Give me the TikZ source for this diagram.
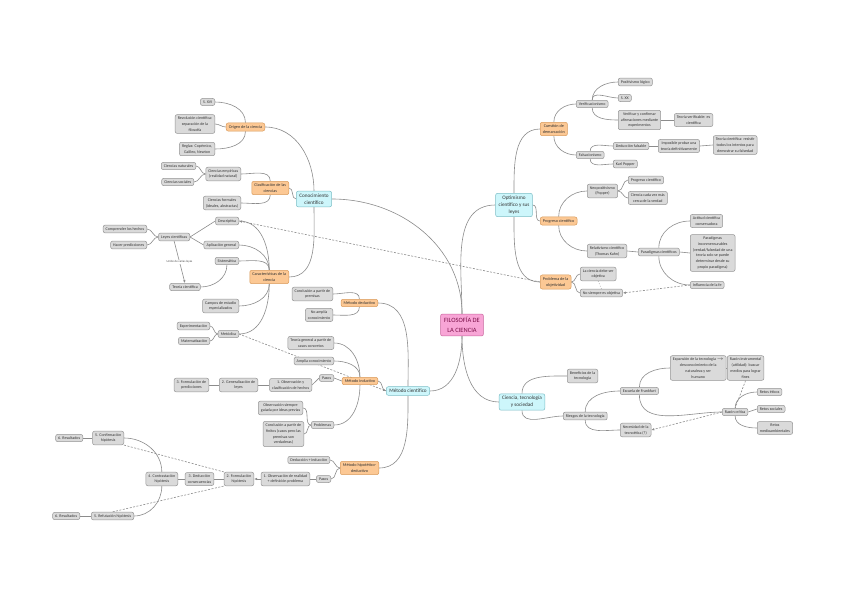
\documentclass[tikz,border=0pt]{standalone}
\usepackage{fontspec}
\setmainfont{Carlito}
\usepackage{tikz}
\usetikzlibrary{arrows.meta, backgrounds}

\definecolor{grisfondo}{HTML}{DADADA}
\definecolor{grisborde}{HTML}{959595}
\definecolor{naranjafondo}{HTML}{FCC894}
\definecolor{naranjaborde}{HTML}{D99A5A}
\definecolor{cianfondo}{HTML}{CDF6FB}
\definecolor{cianborde}{HTML}{7DBEC6}
\definecolor{rosafondo}{HTML}{F8A5D6}
\definecolor{rosaborde}{HTML}{C9669E}
\definecolor{rosatexto}{HTML}{7A1048}
\definecolor{linea}{HTML}{8C8C8C}

\begin{document}
\begin{tikzpicture}[
          x=1pt, y=-1pt,
          every node/.style={rectangle, rounded corners=2pt, align=center, inner xsep=2.6pt, inner ysep=2.2pt, line width=0.5pt, text=black!80},
          hoja/.style={draw=grisborde, fill=grisfondo, font=\fontsize{4}{5.8}\selectfont},
          rama/.style={draw=naranjaborde, fill=naranjafondo, font=\fontsize{4.2}{6}\selectfont},
          tema/.style={draw=cianborde, fill=cianfondo, font=\fontsize{5.2}{7}\selectfont, inner xsep=3pt, inner ysep=2.5pt},
          central/.style={draw=rosaborde, fill=rosafondo, font=\fontsize{6.5}{9.5}\selectfont, text=rosatexto, inner sep=3.5pt},
          etiqueta/.style={fill=white, inner sep=0.8pt, rounded corners=0pt, font=\fontsize{3}{4}\selectfont, text=black!70},
          enlace/.style={draw=linea, line width=0.6pt},
          relacion/.style={draw=linea, line width=0.6pt, dash pattern=on 2pt off 1.5pt},
          flecha/.style={-{Latex[length=3pt, width=2.5pt]}}
        ]
  \useasboundingbox (0,0) rectangle (848,599);

  \node[central] (central) at (462,325) {FILOSOFÍA DE\\LA CIENCIA};

  \node[tema] (conoc) at (314,199) {Conocimiento\\científico};
  \node[tema] (metodo) at (408,391) {Método científico};
  \node[tema] (optim) at (514,205) {Optimismo\\científico y sus\\leyes};
  \node[tema] (ciencia) at (522,402) {Ciencia, tecnología\\y sociedad};

  % conocimiento cientifico
  \node[rama, anchor=east] (origen) at (265,127) {Origen de la ciencia};
  \node[rama, anchor=east] (clasif) at (289,188) {Clasificación de las\\ciencias};
  \node[rama, anchor=east] (caract) at (289,277) {Características de la\\ciencia};

  \node[hoja, anchor=east] (sxvi) at (215,102) {S. XVI};
  \node[hoja, anchor=east] (revol) at (215,124) {Revolución científica:\\separación de la\\filosofía};
  \node[hoja, anchor=east] (reglas) at (215,149) {Reglas: Copérnico,\\Galileo, Newton};

  \node[hoja, anchor=east] (empir) at (241,174) {Ciencias empíricas\\(realidad natural)};
  \node[hoja, anchor=east] (formal) at (241,203) {Ciencias formales\\(ideales, abstractas)};
  \node[hoja, anchor=east] (natur) at (196,166) {Ciencias naturales};
  \node[hoja, anchor=east] (social) at (194,182) {Ciencias sociales};

  \node[hoja, anchor=east] (descr) at (239,221) {Descriptiva};
  \node[hoja, anchor=east] (aplic) at (239,245) {Aplicación general};
  \node[hoja, anchor=east] (sistem) at (239,261) {Sistemática};
  \node[hoja, anchor=east] (campos) at (239,306) {Campos de estudio\\especializados};
  \node[hoja, anchor=east] (metodica) at (239,334) {Metódica};
  \node[hoja, anchor=east] (leyes) at (190,237) {Leyes científicas};
  \node[hoja, anchor=east] (comprender) at (147,229) {Comprender los hechos};
  \node[hoja, anchor=east] (predic) at (147,245) {Hacer predicciones};
  \node[hoja] (teoria) at (185,287) {Teoría científica};
  \node[hoja, anchor=east] (experim) at (210,326) {Experimentación};
  \node[hoja, anchor=east] (matemat) at (210,341) {Matematización};

  % metodo cientifico
  \node[rama, anchor=east] (deduc) at (378,303) {Método deductivo};
  \node[rama, anchor=east] (induc) at (378,381) {Método inductivo};
  \node[rama, anchor=east] (hipot) at (379,468) {Método hipotético-\\deductivo};

  \node[hoja, anchor=east] (concl) at (333,294) {Conclusión a partir de\\premisas};
  \node[hoja, anchor=east] (noampl) at (333,315) {No amplía\\conocimiento};

  \node[hoja, anchor=east] (teogen) at (334,343) {Teoría general a partir de\\casos concretos};
  \node[hoja, anchor=east] (ampl) at (334,361) {Amplía conocimiento};
  \node[hoja, anchor=east] (pasosi) at (334,378) {Pasos};
  \node[hoja, anchor=east] (obsi) at (312,385) {1. Observación y\\clasificación de hechos};
  \node[hoja, anchor=east] (geni) at (258,385) {2. Generalización de\\leyes};
  \node[hoja, anchor=east] (formi) at (209,385) {3. Formulación de\\predicciones};
  \node[hoja, anchor=east] (problemas) at (334,425) {Problemas};
  \node[hoja, anchor=east] (obssiempre) at (303,408) {Observación siempre\\guiada por ideas previas};
  \node[hoja, anchor=east] (conclfin) at (304,434) {Conclusión a partir de\\finitos (casos pero las\\premisas son\\verdaderas)};

  \node[hoja, anchor=east] (dedind) at (330,460) {Deducción + inducción};
  \node[hoja, anchor=east] (pasosh) at (331,479) {Pasos};
  \node[hoja, anchor=east] (obsh) at (310,479) {1. Observación de realidad\\+ definición problema};
  \node[hoja, anchor=east] (formh) at (254,479) {2. Formulación\\hipótesis};
  \node[hoja, anchor=east] (dedh) at (214,479) {3. Deducción\\consecuencias};
  \node[hoja, anchor=east] (contrh) at (178,479) {4. Contrastación\\hipótesis};
  \node[hoja, anchor=east] (confh) at (124,438) {5. Confirmación\\hipótesis};
  \node[hoja, anchor=east] (resa) at (83,438) {6. Resultados};
  \node[hoja, anchor=east] (refh) at (134,516) {5. Refutación hipótesis};
  \node[hoja, anchor=east] (resb) at (80,516) {6. Resultados};

  % optimismo cientifico
  \node[rama, anchor=west] (demarc) at (540,129) {Cuestión de\\demarcación};
  \node[rama, anchor=west] (progreso) at (540,221) {Progreso científico};
  \node[rama, anchor=west] (objet) at (540,282) {Problema de la\\objetividad};

  \node[hoja, anchor=west] (verif) at (576,104) {Verificacionismo};
  \node[hoja, anchor=west] (posit) at (618,82) {Positivismo lógico};
  \node[hoja, anchor=west] (sxx) at (618,98) {S. XX};
  \node[hoja, anchor=west] (verifconf) at (618,120) {Verificar y confirmar\\afirmaciones mediante\\experimentos};
  \node[hoja, anchor=west] (teoverif) at (674,120) {Teoría verificable: es\\científica};
  \node[hoja, anchor=west] (falsac) at (576,155) {Falsacionismo};
  \node[hoja, anchor=west] (dedfals) at (613,146) {Deducción falsable};
  \node[hoja, anchor=west] (karl) at (613,164) {Karl Popper};
  \node[hoja, anchor=west] (imposible) at (658,146) {Imposible probar una\\teoría definitivamente};
  \node[hoja, anchor=west] (teocient) at (713,145) {Teoría científica: resistir\\todos los intentos para\\demostrar su falsedad};

  \node[hoja, anchor=west] (neopos) at (587,191) {Neopositivismo\\(Popper)};
  \node[hoja, anchor=west] (progcient) at (628,180) {Progreso científico};
  \node[hoja, anchor=west] (cerca) at (628,198) {Ciencia cada vez más\\cerca de la verdad};
  \node[hoja, anchor=west] (relat) at (587,251) {Relativismo científico\\(Thomas Kuhn)};
  \node[hoja, anchor=west] (paradig) at (638,252) {Paradigmas científicos};
  \node[hoja, anchor=west] (actitud) at (690,221) {Actitud científica\\conservadora};
  \node[hoja, anchor=west] (inconm) at (690,253) {Paradigmas\\inconmensurables\\(verdad/falsedad de una\\teoría solo se puede\\determinar desde su\\propio paradigma)};
  \node[hoja, anchor=west] (influencia) at (690,285) {Influencia de la fe};

  \node[hoja, anchor=west] (debeobj) at (580,274) {La ciencia debe ser\\objetiva};
  \node[hoja, anchor=west] (noobj) at (580,293) {No siempre es objetiva};

  % ciencia, tecnologia y sociedad
  \node[hoja, anchor=west] (benef) at (567,376) {Beneficios de la\\tecnología};
  \node[hoja, anchor=west] (riesgos) at (563,416) {Riesgos de la tecnología};
  \node[hoja, anchor=west] (escuela) at (620,391) {Escuela de Frankfurt};
  \node[hoja, anchor=west] (expansion) at (670,368) {Expansión de la tecnología $\rightarrow$\\desconocimiento de la\\naturaleza y ser\\humano};
  \node[hoja, anchor=west] (instrum) at (727,368) {Razón instrumental\\(utilidad): buscar\\medios para lograr\\fines};
  \node[hoja, anchor=west] (critica) at (722,412) {Razón crítica};
  \node[hoja, anchor=west] (eticos) at (757,392) {Retos éticos};
  \node[hoja, anchor=west] (sociales) at (757,409) {Retos sociales};
  \node[hoja, anchor=west] (medioamb) at (757,428) {Retos\\medioambientales};
  \node[hoja, anchor=west] (necesidad) at (620,430) {Necesidad de la\\tecnoética (?)};

  \begin{scope}[on background layer]
    \fill[white] (0,0) rectangle (848,599);

    \draw[enlace] (central.north) to[out=90,in=0] (conoc.east);
    \draw[enlace] (central.north) to[out=90,in=180] (optim.west);
    \draw[enlace] (central.south) to[out=-90,in=0] (metodo.east);
    \draw[enlace] (central.south) to[out=-90,in=180] (ciencia.west);

    \draw[enlace] (conoc.north) to[out=90,in=0] (origen.east);
    \draw[enlace] (conoc.west) to[out=180,in=0] (clasif.east);
    \draw[enlace] (conoc.south) to[out=-90,in=0] (caract.east);

    \draw[enlace] (origen.north) to[out=90,in=0] (sxvi.east);
    \draw[enlace] (origen.west) to[out=180,in=0] (revol.east);
    \draw[enlace] (origen.south) to[out=-90,in=0] (reglas.east);

    \draw[enlace] (clasif.north) to[out=90,in=0] (empir.east);
    \draw[enlace] (clasif.south) to[out=-90,in=0] (formal.east);
    \draw[enlace] (empir.west) to[out=180,in=0] (natur.east);
    \draw[enlace] (empir.west) to[out=180,in=0] (social.east);

    \draw[enlace] (caract.north) to[out=90,in=0] (descr.east);
    \draw[enlace] (caract.north) to[out=90,in=0] (aplic.east);
    \draw[enlace] (caract.north) to[out=90,in=0] (sistem.east);
    \draw[enlace] (caract.south) to[out=-90,in=0] (campos.east);
    \draw[enlace] (caract.south) to[out=-90,in=0] (metodica.east);
    \draw[enlace] (descr.west) -- (leyes.east);
    \draw[enlace] (aplic.west) -- (leyes.east);
    \draw[enlace] (leyes.west) to[out=180,in=0] (comprender.east);
    \draw[enlace] (leyes.west) to[out=180,in=0] (predic.east);
    \draw[enlace, flecha] (leyes.south) -- node[etiqueta] {Unión de varias leyes} (teoria.north);
    \draw[enlace] (teoria.east) to[out=0,in=-90] (sistem.south);
    \draw[enlace] (metodica.west) to[out=180,in=0] (experim.east);
    \draw[enlace] (metodica.west) to[out=180,in=0] (matemat.east);

    \draw[enlace] (metodo.north) to[out=90,in=0] (deduc.east);
    \draw[enlace] (metodo.west) to[out=180,in=0] (induc.east);
    \draw[enlace] (metodo.south) to[out=-90,in=0] (hipot.east);

    \draw[enlace] (deduc.north) to[out=90,in=0] (concl.east);
    \draw[enlace] (deduc.south) to[out=-90,in=0] (noampl.east);

    \draw[enlace] (induc.north) to[out=90,in=0] (teogen.east);
    \draw[enlace] (induc.north) to[out=90,in=0] (ampl.east);
    \draw[enlace] (induc.west) -- (pasosi.east);
    \draw[enlace] (induc.south) to[out=-90,in=0] (problemas.east);
    \draw[enlace] (pasosi.west) -- (obsi.east);
    \draw[enlace] (obsi.west) -- (geni.east);
    \draw[enlace] (geni.west) -- (formi.east);
    \draw[enlace] (problemas.west) to[out=180,in=0] (obssiempre.east);
    \draw[enlace] (problemas.west) to[out=180,in=0] (conclfin.east);

    \draw[enlace] (hipot.west) to[out=180,in=0] (dedind.east);
    \draw[enlace] (hipot.west) to[out=180,in=0] (pasosh.east);
    \draw[enlace] (pasosh.west) -- (obsh.east);
    \draw[enlace, flecha] (obsh.west) -- (formh.east);
    \draw[enlace] (formh.west) -- (dedh.east);
    \draw[enlace] (dedh.west) -- (contrh.east);
    \draw[enlace] (contrh.north) to[out=90,in=0] (confh.east);
    \draw[enlace] (contrh.south) to[out=-90,in=0] (refh.east);
    \draw[enlace] (confh.west) -- (resa.east);
    \draw[enlace] (refh.west) -- (resb.east);
    \draw[relacion] (confh.south east) -- (formh.north west);
    \draw[relacion] (refh.north) -- (formh.south west);

    \draw[enlace] (optim.north) to[out=90,in=180] (demarc.west);
    \draw[enlace] (optim.east) to[out=0,in=180] (progreso.west);
    \draw[enlace] (optim.south) to[out=-90,in=180] (objet.west);

    \draw[enlace] (demarc.north) to[out=90,in=180] (verif.west);
    \draw[enlace] (demarc.south) to[out=-90,in=180] (falsac.west);
    \draw[enlace] (verif.north) to[out=90,in=180] (posit.west);
    \draw[enlace] (verif.north) to[out=90,in=180] (sxx.west);
    \draw[enlace] (verif.south) to[out=-90,in=180] (verifconf.west);
    \draw[enlace] (verifconf.east) -- (teoverif.west);
    \draw[enlace] (falsac.north) to[out=90,in=180] (dedfals.west);
    \draw[enlace] (falsac.south) to[out=-90,in=180] (karl.west);
    \draw[enlace] (dedfals.east) -- (imposible.west);
    \draw[enlace] (imposible.east) -- (teocient.west);

    \draw[enlace] (progreso.north) to[out=90,in=180] (neopos.west);
    \draw[enlace] (progreso.south) to[out=-90,in=180] (relat.west);
    \draw[enlace] (neopos.east) to[out=0,in=180] (progcient.west);
    \draw[enlace] (neopos.east) to[out=0,in=180] (cerca.west);
    \draw[enlace] (relat.east) -- (paradig.west);
    \draw[enlace] (paradig.north) to[out=90,in=180] (actitud.west);
    \draw[enlace] (paradig.east) -- (inconm.west);
    \draw[enlace] (paradig.south) to[out=-90,in=180] (influencia.west);

    \draw[enlace] (objet.east) to[out=0,in=180] (debeobj.west);
    \draw[enlace] (objet.east) to[out=0,in=180] (noobj.west);
    \draw[enlace, dotted] (debeobj.south) -- (noobj.north);
    \draw[relacion, flecha] (influencia.west) -- (noobj.east);
    \draw[relacion, flecha] (objet.west) -- (descr.east);
    \draw[relacion, flecha] (metodica.east) -- (metodo.west);

    \draw[enlace] (ciencia.north) to[out=90,in=180] (benef.west);
    \draw[enlace] (ciencia.south) to[out=-90,in=180] (riesgos.west);
    \draw[enlace] (riesgos.north) to[out=90,in=180] (escuela.west);
    \draw[enlace] (riesgos.south) to[out=-90,in=180] (necesidad.west);
    \draw[enlace] (escuela.north) to[out=90,in=180] (expansion.west);
    \draw[enlace] (escuela.south) to[out=-90,in=180] (critica.west);
    \draw[enlace] (expansion.east) -- (instrum.west);
    \draw[relacion] (instrum.south) -- (critica.north);
    \draw[enlace] (critica.north) to[out=90,in=180] (eticos.west);
    \draw[enlace] (critica.east) to[out=0,in=180] (sociales.west);
    \draw[enlace] (critica.south) to[out=-90,in=180] (medioamb.west);
    \draw[relacion, flecha] (critica.west) -- (necesidad.east);
  \end{scope}
\end{tikzpicture}
\end{document}
